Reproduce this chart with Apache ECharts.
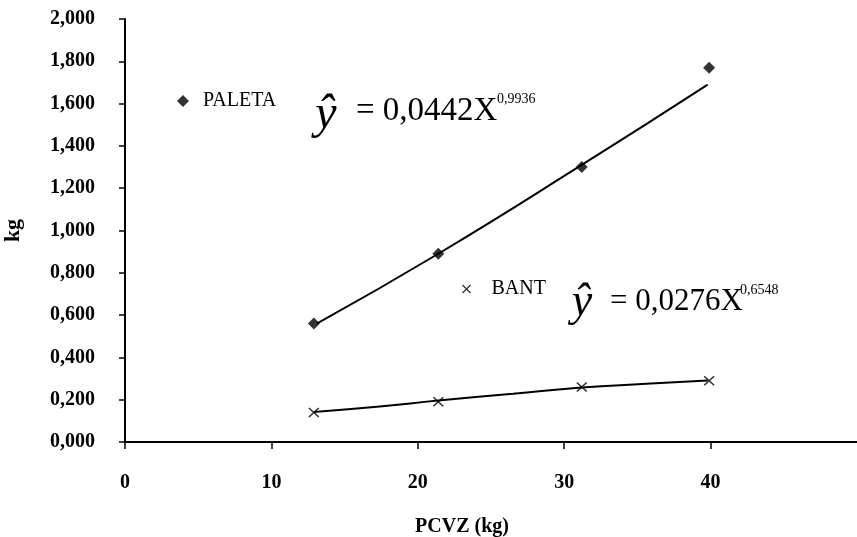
<!DOCTYPE html>
<html>
<head>
<meta charset="utf-8">
<script src="https://cdn.jsdelivr.net/npm/echarts@6/dist/echarts.min.js"></script>
<style>
html,body{margin:0;padding:0;background:#fff;}
#chart{width:857px;height:537px;}
</style>
</head>
<body>
<div id="chart"></div>
<script>
// ---- data ----
const xTicks = [0, 10, 20, 30, 40];
const yTicks = [0, 0.2, 0.4, 0.6, 0.8, 1.0, 1.2, 1.4, 1.6, 1.8, 2.0];
const pcvz = [12.9, 21.4, 31.2, 39.9];
const paleta = [0.56, 0.89, 1.30, 1.77];
const bant = [0.14, 0.19, 0.26, 0.29];
const paletaFitX = [13.1, 21.4, 31.2, 39.8];
const paletaFitY = [0.56, 0.89, 1.31, 1.69];
const bantFitX = [12.9, 17.4, 21.4, 26.5, 31.2, 35.6, 39.8];
const bantFitY = [0.142, 0.168, 0.196, 0.228, 0.258, 0.275, 0.291];
const eqPaleta = {hat: 'ŷ', main: '= 0,0442X', sup: '0,9936'};
const eqBant = {hat: 'ŷ', main: '= 0,0276X', sup: '0,6548'};

const SERIF = '"Liberation Serif", "Times New Roman", serif';
const zip = (a, b) => a.map((v, i) => [v, b[i]]);
const crossPath = 'path://M0,1L1,0L5,4L9,0L10,1L6,5L10,9L9,10L5,6L1,10L0,9L4,5Z';

const chart = echarts.init(document.getElementById('chart'), null, {renderer: 'canvas'});
chart.setOption({
  animation: false,
  backgroundColor: '#fff',
  grid: {left: 125, right: 0, top: 19, bottom: 95, containLabel: false, outerBoundsMode: 'none'},
  xAxis: {
    type: 'value', min: 0, max: 50, interval: 10,
    name: 'PCVZ (kg)', nameLocation: 'middle', nameGap: 75,
    nameTextStyle: {fontFamily: SERIF, fontWeight: 'bold', fontSize: 20, color: '#000', padding: [0, 58, 0, 0]},
    axisLine: {show: true, lineStyle: {color: '#000', width: 2}},
    axisTick: {show: true, inside: false, length: 7, lineStyle: {color: '#000', width: 1.5}, customValues: xTicks},
    axisLabel: {margin: 31, fontFamily: SERIF, fontWeight: 'bold', fontSize: 20, color: '#000', customValues: xTicks},
    splitLine: {show: false}
  },
  yAxis: {
    type: 'value', min: 0, max: 2, interval: 0.2,
    name: 'kg', nameLocation: 'middle', nameGap: 101,
    nameTextStyle: {fontFamily: SERIF, fontWeight: 'bold', fontSize: 22, color: '#000'},
    axisLine: {show: true, lineStyle: {color: '#000', width: 2}},
    axisTick: {show: true, length: 6, lineStyle: {color: '#000', width: 1.5}},
    axisLabel: {margin: 30, fontFamily: SERIF, fontWeight: 'bold', fontSize: 20, color: '#000',
      customValues: yTicks,
      formatter: v => v.toFixed(3).replace('.', ',')},
    splitLine: {show: false}
  },
  legend: [
    {data: ['PALETA'], left: 177, top: 91, padding: 0, itemWidth: 12, itemHeight: 12, selectedMode: false,
     textStyle: {fontFamily: SERIF, fontSize: 20, color: '#000', lineHeight: 20, padding: [0, 0, 0, 9]}},
    {data: ['BANT'], left: 462, top: 279, padding: 0, itemWidth: 10, itemHeight: 9, selectedMode: false,
     textStyle: {fontFamily: SERIF, fontSize: 20, color: '#000', lineHeight: 20, padding: [0, 0, 0, 15]}}
  ],
  series: [
    {name: 'PALETA fit', type: 'line', data: zip(paletaFitX, paletaFitY), smooth: true, showSymbol: false,
     lineStyle: {color: '#000', width: 2}, z: 2},
    {name: 'BANT fit', type: 'line', data: zip(bantFitX, bantFitY), smooth: true, showSymbol: false,
     lineStyle: {color: '#000', width: 2}, z: 2},
    {name: 'PALETA', type: 'scatter', data: zip(pcvz, paleta), symbol: 'diamond', symbolSize: [12, 12],
     itemStyle: {color: '#000'}, z: 3},
    {name: 'BANT', type: 'scatter', data: zip(pcvz, bant), symbol: crossPath, symbolSize: [11, 10],
     itemStyle: {color: '#000'}, z: 3}
  ],
  graphic: [
    {type: 'text', x: 326, y: 115, style: {text: eqPaleta.hat, font: 'italic 48px ' + SERIF, fill: '#000', textAlign: 'center', textVerticalAlign: 'middle'}},
    {type: 'text', x: 356, y: 111, style: {text: eqPaleta.main, font: '33px ' + SERIF, fill: '#000', textAlign: 'left', textVerticalAlign: 'middle'}},
    {type: 'text', x: 497, y: 99, style: {text: eqPaleta.sup, font: '14px ' + SERIF, fill: '#000', textAlign: 'left', textVerticalAlign: 'middle'}},
    {type: 'text', x: 582, y: 303, style: {text: eqBant.hat, font: 'italic 46px ' + SERIF, fill: '#000', textAlign: 'center', textVerticalAlign: 'middle'}},
    {type: 'text', x: 610, y: 302, style: {text: eqBant.main, font: '31px ' + SERIF, fill: '#000', textAlign: 'left', textVerticalAlign: 'middle'}},
    {type: 'text', x: 740, y: 290, style: {text: eqBant.sup, font: '14px ' + SERIF, fill: '#000', textAlign: 'left', textVerticalAlign: 'middle'}}
  ]
});
</script>
</body>
</html>
